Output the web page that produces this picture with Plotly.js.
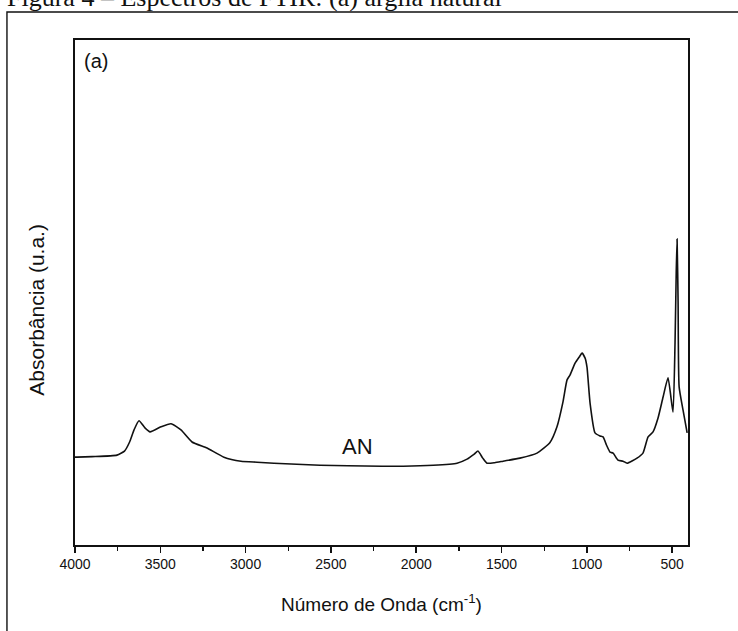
<!DOCTYPE html>
<html>
<head>
<meta charset="utf-8">
<script src="https://cdn.plot.ly/plotly-3.0.1.min.js"></script>
<style>
  html, body { margin: 0; padding: 0; background: #ffffff; }
  #chart { width: 738px; height: 631px; }
</style>
</head>
<body>
<div id="chart"></div>
<script>
// Wavenumber (cm-1)
const wavenumber = [4000, 3988, 3900, 3754, 3710, 3680, 3654, 3625, 3590, 3560, 3496, 3437, 3379, 3314, 3226, 3127, 3027, 2933, 2834, 2700, 2564, 2400, 2200, 2077, 1900, 1761, 1702, 1660, 1638, 1610, 1585, 1540, 1491, 1392, 1292, 1216, 1175, 1140, 1116, 1098, 1069, 1045, 1028, 1010, 999, 981, 952, 923, 905, 885, 864, 846, 817, 788, 764, 706, 671, 641, 612, 583, 553, 524, 495, 483, 476, 471, 465, 459, 436, 412];
// Absorbance (arbitrary units)
const absorbance = [0.174, 0.174, 0.175, 0.178, 0.186, 0.204, 0.228, 0.246, 0.232, 0.224, 0.234, 0.240, 0.228, 0.204, 0.192, 0.174, 0.166, 0.164, 0.162, 0.160, 0.158, 0.157, 0.156, 0.156, 0.158, 0.162, 0.170, 0.180, 0.186, 0.172, 0.162, 0.163, 0.166, 0.172, 0.182, 0.203, 0.234, 0.283, 0.327, 0.337, 0.360, 0.372, 0.380, 0.370, 0.352, 0.281, 0.222, 0.216, 0.214, 0.198, 0.184, 0.182, 0.168, 0.166, 0.162, 0.172, 0.182, 0.214, 0.224, 0.251, 0.293, 0.331, 0.263, 0.400, 0.540, 0.606, 0.480, 0.313, 0.267, 0.222];

const xTickVals = [4000, 3500, 3000, 2500, 2000, 1500, 1000, 500];
const xTickText = ['4000', '3500', '3000', '2500', '2000', '1500', '1000', '500'];
const xRange = [4000, 407];
const yRange = [0, 1];

const sampleLabel = 'AN';
const sampleLabelPos = [2347, 0.196];
const panelLabel = '(a)';
const caption = 'Figura 4 \u2013 Espectros de FTIR: (a) argila natural';
const xTitle = 'N\u00famero de Onda (cm<sup>-1</sup>)';
const yTitle = 'Absorb\u00e2ncia (u.a.)';

const sans = '"Liberation Sans", Arial, sans-serif';

const trace = {
  x: wavenumber,
  y: absorbance,
  type: 'scatter',
  mode: 'lines',
  line: { color: '#111111', width: 1.6, shape: 'spline', smoothing: 0.5 },
  hoverinfo: 'skip',
  showlegend: false
};

const layout = {
  width: 738,
  height: 631,
  margin: { l: 75, r: 50, t: 40, b: 86, pad: 0 },
  paper_bgcolor: '#ffffff',
  plot_bgcolor: '#ffffff',
  font: { family: sans, color: '#111111', size: 14 },
  showlegend: false,
  xaxis: {
    range: xRange,
    tickmode: 'array',
    tickvals: xTickVals,
    ticktext: xTickText,
    ticks: 'outside',
    ticklen: 6,
    tickwidth: 1.5,
    tickcolor: '#111111',
    minor: { dtick: 250, tick0: 0, ticks: 'outside', ticklen: 4, tickwidth: 1.3, tickcolor: '#111111' },
    showline: true,
    linecolor: '#111111',
    linewidth: 1.6,
    mirror: true,
    showgrid: false,
    zeroline: false,
    tickfont: { family: sans, size: 14, color: '#111111' },
    title: { text: xTitle, font: { family: sans, size: 19, color: '#111111' }, standoff: 26 }
  },
  yaxis: {
    range: yRange,
    showticklabels: false,
    ticks: '',
    showline: true,
    linecolor: '#111111',
    linewidth: 1.6,
    mirror: true,
    showgrid: false,
    zeroline: false
  },
  shapes: [
    { type: 'rect', xref: 'paper', yref: 'paper', x0: -0.111, x1: 1.2, y0: -0.3, y1: 1.0554,
      line: { color: '#111111', width: 1.4 }, fillcolor: 'rgba(0,0,0,0)', layer: 'below' }
  ],
  annotations: [
    { text: sampleLabel, x: sampleLabelPos[0], y: sampleLabelPos[1], xref: 'x', yref: 'y',
      xanchor: 'center', yanchor: 'middle',
      showarrow: false, font: { family: sans, size: 22, color: '#111111' } },
    { text: panelLabel, x: 0.011, y: 0.985, xref: 'paper', yref: 'paper', xanchor: 'left', yanchor: 'top',
      showarrow: false, font: { family: sans, size: 20, color: '#111111' } },
    { text: yTitle, x: -0.062, y: 0.466, xref: 'paper', yref: 'paper', textangle: -90,
      xanchor: 'center', yanchor: 'middle',
      showarrow: false, font: { family: sans, size: 21, color: '#111111' } },
    { text: caption, x: -0.115, y: 1.0515, xref: 'paper', yref: 'paper', xanchor: 'left', yanchor: 'bottom',
      showarrow: false, font: { family: '"Liberation Serif", "Times New Roman", serif', size: 26, color: '#111111' } }
  ]
};

Plotly.newPlot('chart', [trace], layout, { staticPlot: true, displayModeBar: false });
</script>
</body>
</html>
